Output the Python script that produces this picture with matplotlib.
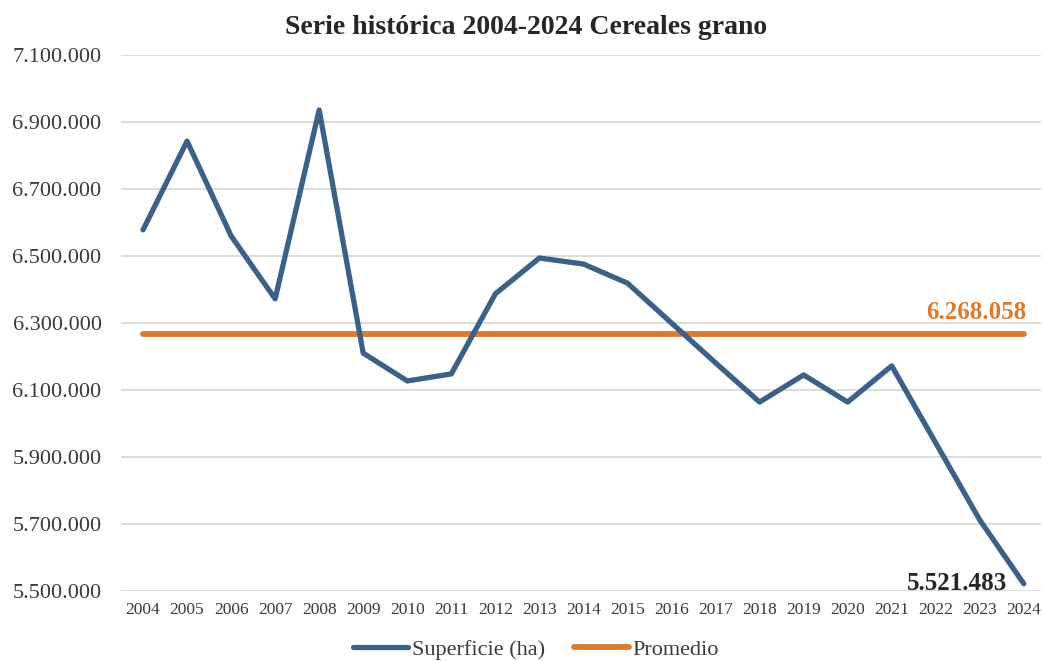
import matplotlib
matplotlib.use("Agg")
import matplotlib.pyplot as plt
from matplotlib.ticker import FuncFormatter

years = [str(y) for y in range(2004, 2025)]
superficie = [6578000, 6843000, 6560000, 6372000, 6936000, 6210000, 6127000,
              6148000, 6387000, 6494000, 6476000, 6419000, 6300000, 6181000,
              6064000, 6145000, 6064000, 6172000, 5942000, 5712000, 5521483]
promedio_val = 6268058
promedio = [promedio_val] * len(years)

title = "Serie histórica 2004-2024 Cereales grano"
yticks = [5500000, 5700000, 5900000, 6100000, 6300000, 6500000, 6700000, 6900000, 7100000]

BLUE = "#3b6189"
ORANGE = "#dd7a2d"
TXT = "#3a3a3a"

plt.rcParams['font.family'] = ['Liberation Serif', 'DejaVu Serif']

W, H = 1042, 661
fig = plt.figure(figsize=(W / 100, H / 100), dpi=100)
ax = fig.add_axes([121 / W, (H - 591) / H, (1041 - 121) / W, (591 - 55) / H])

x = list(range(len(years)))
ax.plot(x, superficie, color=BLUE, lw=3.8, solid_capstyle='round', solid_joinstyle='round',
        label="Superficie (ha)", zorder=3)
ax.plot(x, promedio, color=ORANGE, lw=4.2, solid_capstyle='round', label="Promedio", zorder=2)

ax.set_xlim(-0.5, 20.39)
ax.set_ylim(5500000, 7100000)
ax.set_yticks(yticks)
ax.yaxis.set_major_formatter(FuncFormatter(lambda v, p: f"{int(v):,}".replace(",", ".")))
ax.set_xticks(x)
ax.set_xticklabels(years)

ax.grid(axis='y', color='#d9d9d9', lw=1.3, zorder=0)
ax.set_axisbelow(True)
for s in ax.spines.values():
    s.set_visible(False)
ax.tick_params(axis='both', length=0)
ax.tick_params(axis='y', labelsize=16, labelcolor=TXT, pad=14)
ax.tick_params(axis='x', labelsize=12.5, labelcolor=TXT, pad=8)

fmt = lambda v: f"{int(v):,}".replace(",", ".")
ax.annotate(fmt(promedio_val), xy=(x[-1], promedio_val), xytext=(2, 7),
            textcoords='offset points', ha='right', va='bottom',
            fontsize=18, fontweight='bold', color=ORANGE)
ax.annotate(fmt(superficie[-1]), xy=(x[-1], superficie[-1]), xytext=(-12, 0),
            textcoords='offset points', ha='right', va='center',
            fontsize=18, fontweight='bold', color="#262626")

fig.suptitle(title, x=526 / W, y=1 - 28 / H, va='center', fontsize=20,
             fontweight='bold', color="#262626")

leg = fig.legend(loc='center', bbox_to_anchor=(536 / W, 1 - 650 / H), ncol=2,
                 frameon=False, fontsize=16, handlelength=2.5, handletextpad=0.15,
                 columnspacing=1.3, labelcolor=TXT)

fig.savefig("out.png", dpi=100)
